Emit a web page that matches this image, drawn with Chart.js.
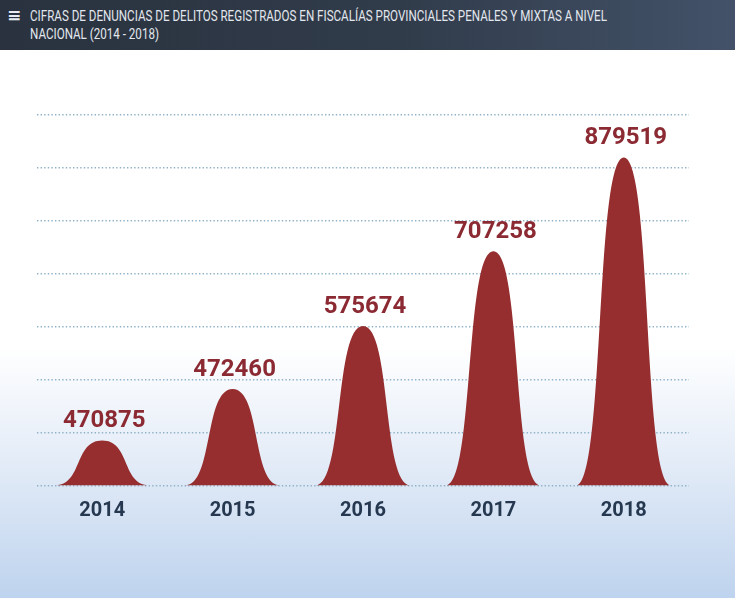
<!DOCTYPE html>
<html>
<head>
<meta charset="utf-8">
<script src="https://cdn.jsdelivr.net/npm/chart.js@4.4.1/dist/chart.umd.min.js"></script>
<style>
  html, body { margin: 0; padding: 0; }
  body {
    width: 735px; height: 598px; overflow: hidden; position: relative;
    background: linear-gradient(180deg, #ffffff 0%, #ffffff 58%, #e2ebf7 78%, #bed3ee 100%);
  }
  #cabecera {
    position: absolute; left: 0; top: 0; width: 735px; height: 50px;
    background: linear-gradient(90deg, #29323e 0%, #313c4b 55%, #435269 100%);
  }
  #icono { position: absolute; left: 7px; top: 5px; color: #e8ecf2; font: bold 17px "DejaVu Sans"; }
  #titulo {
    position: absolute; left: 30px; top: 7px; width: 760px;
    color: #e3e7ee; font: 14px/18px Roboto, sans-serif;
    transform: scaleX(0.83); transform-origin: left top;
  }
  #grafico { position: absolute; left: 0; top: 0; width: 735px; height: 598px; }
</style>
</head>
<body>
<div id="grafico"><canvas id="denuncias"></canvas></div>
<div id="cabecera">
  <div id="icono">≡</div>
  <div id="titulo">CIFRAS DE DENUNCIAS DE DELITOS REGISTRADOS EN FISCALÍAS PROVINCIALES PENALES Y MIXTAS A NIVEL<br>NACIONAL (2014 - 2018)</div>
</div>
<script>
const anios = ["2014", "2015", "2016", "2017", "2018"];
const denuncias = [470875, 472460, 575674, 707258, 879519];
// the bells are not drawn to scale: heights
const alturas = [0.86, 1.83, 3.02, 4.43, 6.2];

const campanas = {
  id: "campanas",
  beforeDatasetDraw(chart, args) {
    const ctx = chart.ctx;
    const meta = args.meta;
    ctx.save();
    ctx.fillStyle = "#962d2e";
    meta.data.forEach(function (el) {
      const hw = el.width / 2;
      ctx.beginPath();
      ctx.moveTo(el.x - hw, el.base);
      ctx.bezierCurveTo(el.x - hw * 0.4, el.base, el.x - hw * 0.6, el.y, el.x, el.y);
      ctx.bezierCurveTo(el.x + hw * 0.6, el.y, el.x + hw * 0.4, el.base, el.x + hw, el.base);
      ctx.closePath();
      ctx.fill();
    });
    ctx.restore();
    return false;
  },
  afterDatasetsDraw(chart) {
    const ctx = chart.ctx;
    const meta = chart.getDatasetMeta(0);
    ctx.save();
    ctx.fillStyle = "#8c2a33";
    ctx.font = "bold 24px Roboto";
    ctx.textAlign = "center";
    ctx.textBaseline = "alphabetic";
    meta.data.forEach(function (el, i) {
      ctx.fillText(String(denuncias[i]), el.x + 2, el.y - 13);
    });
    ctx.restore();
  },
};

var ctx = document.getElementById("denuncias");
var myChart = new Chart(ctx, {
  type: "bar",
  data: {
    labels: anios,
    datasets: [
      {
        label: "Denuncias",
        data: alturas,
        backgroundColor: "#962d2e",
        barPercentage: 0.73,
        categoryPercentage: 1,
      },
    ],
  },
  options: {
    responsive: true,
    maintainAspectRatio: false,
    animation: false,
    layout: { padding: { left: 37, right: 46, top: 115, bottom: 70 } },
    plugins: { legend: { display: false }, tooltip: { enabled: false } },
    scales: {
      x: {
        grid: { display: false },
        border: { display: false },
        ticks: { color: "#25384f", font: { family: "Roboto", size: 20, weight: "bold" }, padding: 5 },
      },
      y: {
        min: 0,
        max: 7,
        ticks: { display: false, stepSize: 1 },
        border: { display: false, dash: [1.4, 2.2] },
        grid: {
          color: "#8fb2c9",
          lineWidth: 1.4,
          drawTicks: false,
        },
      },
    },
  },
  plugins: [campanas],
});
</script>
</body>
</html>
